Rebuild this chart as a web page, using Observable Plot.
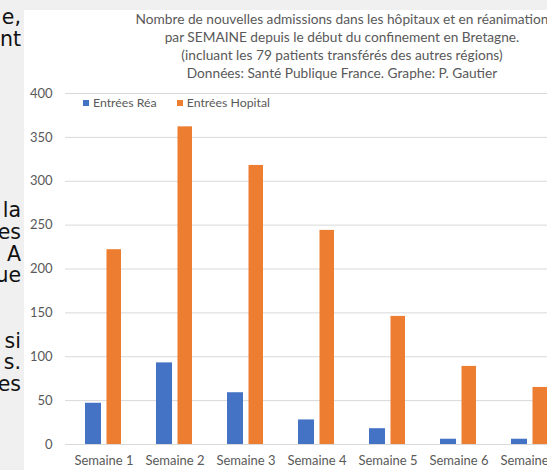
<!DOCTYPE html>
<html><head><meta charset="utf-8">
<script src="https://cdn.jsdelivr.net/npm/d3@7"></script>
<script src="https://cdn.jsdelivr.net/npm/@observablehq/plot@0.6"></script>
<style>
html,body{margin:0;padding:0;width:547px;height:470px;overflow:hidden;background:#f0f0f0;position:relative;}
.frag{position:absolute;left:-79px;width:100px;text-align:right;white-space:nowrap;font-family:"DejaVu Sans",sans-serif;font-size:20.5px;line-height:22px;color:#111;}
#panel{position:absolute;left:24px;top:10px;width:600px;height:470px;background:#fff;}
#title{position:absolute;left:24px;top:10px;width:636px;text-align:center;font-family:Lato,sans-serif;font-size:13.7px;line-height:18px;color:#595959;white-space:nowrap;}
#legend{position:absolute;left:83px;top:95px;font-family:Lato,sans-serif;font-size:12.3px;color:#595959;display:flex;align-items:center;white-space:nowrap;}
#legend .sw{display:inline-block;width:6px;height:6px;margin-right:4px;}
#legend .item{display:flex;align-items:center;margin-right:20px;}
#chart{position:absolute;left:24px;top:80px;width:570px;}
#chart svg{max-width:none !important;}
</style>
</head><body>
<div id="frags"></div>
<div id="panel"></div>
<div id="title"></div>
<div id="chart"></div>
<div id="legend"></div>
<script>
const fragments = ["e,", "nt", "la", "es", "A", "ue", "si", "s.", "es"];
const fragRows = [0, 1, 9, 10, 11, 12, 15, 16, 17];
const titleLines = [
  "Nombre de nouvelles admissions dans les hôpitaux et en réanimation",
  "par SEMAINE depuis le début du confinement en Bretagne.",
  "(incluant les 79 patients transférés des autres régions)",
  "Données: Santé Publique France. Graphe: P. Gautier"
];
const weeks = ["Semaine 1", "Semaine 2", "Semaine 3", "Semaine 4", "Semaine 5", "Semaine 6", "Semaine 7"];
const series = ["Entrées Réa", "Entrées Hopital"];
const rea = [47, 93, 59, 28, 18, 6, 6];
const hopital = [222, 362, 318, 244, 146, 89, 65];
const yTicks = [0, 50, 100, 150, 200, 250, 300, 350, 400];
const colors = ["#4472C4", "#ED7D31"];

const fr = document.getElementById("frags");
fragments.forEach((t, i) => {
  const d = document.createElement("div");
  d.className = "frag";
  d.style.top = (6 + fragRows[i] * 21.7 - (fragRows[i] > 1 ? 2 : 0)) + "px";
  d.textContent = t;
  fr.appendChild(d);
});
const ti = document.getElementById("title");
titleLines.forEach(t => { const d = document.createElement("div"); d.textContent = t; ti.appendChild(d); });
const lg = document.getElementById("legend");
series.forEach((s, i) => {
  const it = document.createElement("span"); it.className = "item";
  const sw = document.createElement("span"); sw.className = "sw"; sw.style.background = colors[i];
  it.appendChild(sw); it.appendChild(document.createTextNode(s)); lg.appendChild(it);
});

const chart = Plot.plot({
  width: 570, height: 390,
  marginLeft: 41, marginRight: 27, marginTop: 13, marginBottom: 26,
  style: {fontFamily: "Lato, sans-serif", fontSize: "13px", color: "#595959", background: "transparent", maxWidth: "none"},
  x: {domain: weeks, padding: 0, label: null},
  y: {domain: [0, 400], label: null},
  marks: [
    Plot.gridY(yTicks, {stroke: "#d9d9d9", strokeOpacity: 1}),
    Plot.axisY(yTicks, {tickSize: 0, tickPadding: 13, label: null}),
    Plot.barY(weeks, {x: w => w, y: (w, i) => rea[i], fill: colors[0], insetLeft: 17, insetRight: 38}),
    Plot.barY(weeks, {x: w => w, y: (w, i) => hopital[i], fill: colors[1], insetLeft: 38.5, insetRight: 18}),
    Plot.axisX({tickSize: 0, tickPadding: 11, label: null})
  ]
});
document.getElementById("chart").appendChild(chart);
</script>
</body></html>
